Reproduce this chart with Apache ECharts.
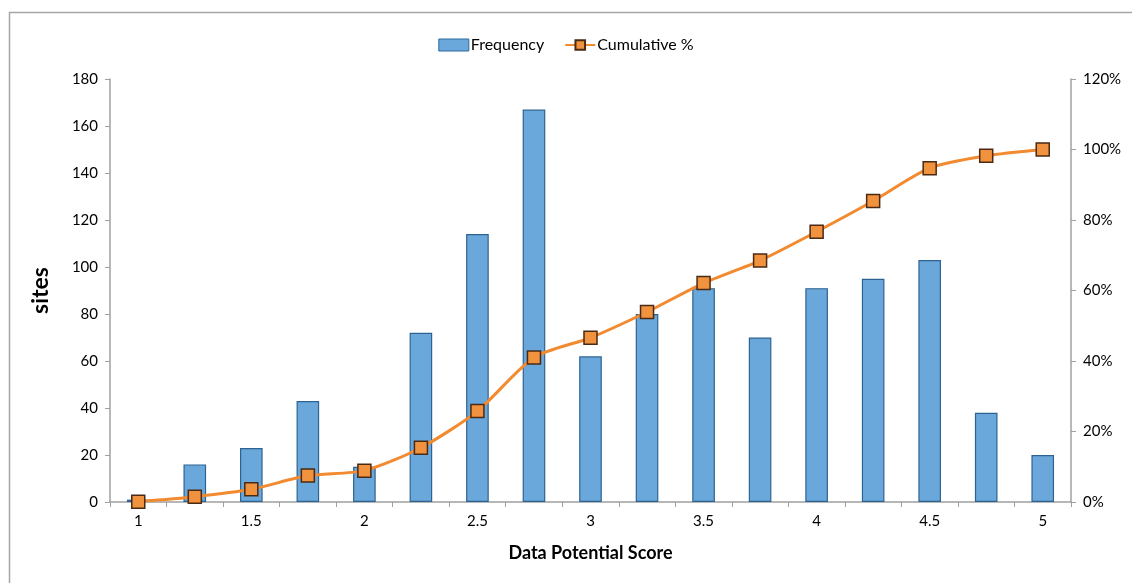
<!DOCTYPE html>
<html>
<head>
<meta charset="utf-8">
<script src="https://cdn.jsdelivr.net/npm/echarts@6/dist/echarts.min.js"></script>
<style>html,body{margin:0;padding:0;background:#fff;}#c{width:1132px;height:583px;}</style>
</head>
<body>
<div id="c"></div>
<script>
const categories = ['1','1.25','1.5','1.75','2','2.25','2.5','2.75','3','3.25','3.5','3.75','4','4.25','4.5','4.75','5'];
const frequency = [1, 16, 23, 43, 15, 72, 114, 167, 62, 80, 91, 70, 91, 95, 103, 38, 20];
const cumulativePct = [0.001, 0.015, 0.036, 0.075, 0.089, 0.154, 0.258, 0.41, 0.466, 0.539, 0.621, 0.685, 0.767, 0.854, 0.947, 0.982, 1.0];
const leftTicks = {min: 0, max: 180, interval: 20};
const rightTicks = {min: 0, max: 1.2, interval: 0.2};

const font = 'Lato, "Open Sans", sans-serif';
const chart = echarts.init(document.getElementById('c'));
chart.setOption({
  animation: false,
  graphic: [{
    type: 'rect', left: 7, top: 10, z: -1,
    shape: {width: 1140, height: 600},
    style: {fill: 'none', stroke: '#A6A6A6', lineWidth: 1.5}
  }],
  legend: {
    top: 32, left: 'center', itemGap: 20,
    textStyle: {fontFamily: font, fontSize: 16, color: '#000', padding: [0, 0, 0, -3]},
    data: [
      {name: 'Frequency', icon: 'rect', itemStyle: {color: '#6AA8DB', borderColor: '#2E6A9C', borderWidth: 1}},
      {name: 'Cumulative %'}
    ],
    itemWidth: 30, itemHeight: 12
  },
  grid: {left: 110, right: 61, top: 79, bottom: 81},
  xAxis: {
    type: 'category', data: categories, boundaryGap: true,
    name: 'Data Potential Score', nameLocation: 'middle', nameGap: 42,
    nameTextStyle: {fontFamily: font, fontSize: 18, fontWeight: 'bold', color: '#000'},
    axisLine: {lineStyle: {color: '#A0A0A0', width: 1.5}},
    axisTick: {show: true, interval: 0, length: 5, lineStyle: {color: '#A0A0A0'}},
    axisLabel: {interval: 1, fontFamily: font, fontSize: 15, color: '#000', margin: 12}
  },
  yAxis: [{
    type: 'value', min: leftTicks.min, max: leftTicks.max, interval: leftTicks.interval,
    name: 'sites', nameLocation: 'middle', nameGap: 58, nameRotate: 90,
    nameTextStyle: {fontFamily: font, fontSize: 23, fontWeight: 'bold', color: '#000'},
    axisLine: {show: true, lineStyle: {color: '#A0A0A0', width: 1.5}},
    axisTick: {show: true, length: 5, lineStyle: {color: '#A0A0A0'}},
    splitLine: {show: false},
    axisLabel: {fontFamily: font, fontSize: 15, color: '#000', margin: 12}
  }, {
    type: 'value', min: rightTicks.min, max: rightTicks.max, interval: rightTicks.interval,
    axisLine: {show: true, lineStyle: {color: '#A0A0A0', width: 1.5}},
    axisTick: {show: true, length: 5, lineStyle: {color: '#A0A0A0'}},
    splitLine: {show: false},
    axisLabel: {fontFamily: font, fontSize: 15, color: '#000', margin: 12,
      formatter: v => Math.round(v * 100) + '%'}
  }],
  series: [{
    name: 'Frequency', type: 'bar', data: frequency, barWidth: '40%',
    itemStyle: {color: '#6AA8DB', borderColor: '#2E6391', borderWidth: 1.2}
  }, {
    name: 'Cumulative %', type: 'line', yAxisIndex: 1, data: cumulativePct,
    smooth: 0.25, symbol: 'rect', symbolSize: 13,
    lineStyle: {color: '#F28A30', width: 3},
    itemStyle: {color: '#F0923E', borderColor: '#4A2A14', borderWidth: 1.5}
  }]
});
</script>
</body>
</html>
